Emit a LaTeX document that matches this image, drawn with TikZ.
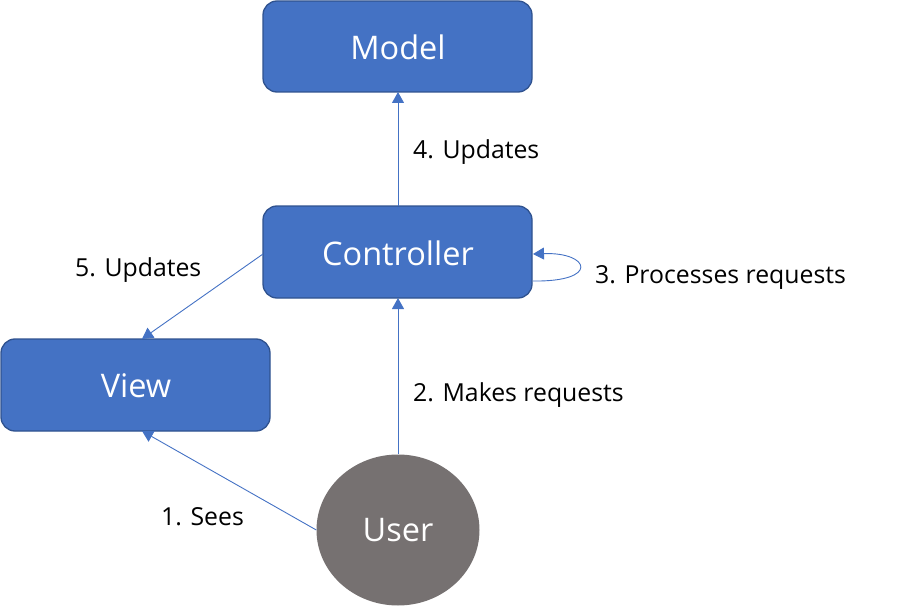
\documentclass[tikz,border=0pt]{standalone}
\usepackage{fontspec}
\setmainfont{Open Sans}
\usetikzlibrary{arrows.meta,shapes.geometric}
\definecolor{boxblue}{HTML}{4472C4}
\definecolor{boxedge}{HTML}{2F528F}
\definecolor{usergray}{HTML}{767171}
\begin{document}
\begin{tikzpicture}[x=1pt,y=-1pt,
  block/.style={draw=boxedge,line width=1.3pt,fill=boxblue,rounded corners=14pt},
  boxtext/.style={text=white,font=\fontsize{32.5}{38}\selectfont},
  link/.style={draw=boxblue,line width=0.9pt,-{Triangle[length=11pt,width=12pt]}},
  lbl/.style={font=\fontsize{24.8}{29}\selectfont,text=black,inner sep=0pt}]
\useasboundingbox (0,0) rectangle (900,607);
% boxes drawn from their corners
\draw[block] (263,1) rectangle (532,92);
\node[boxtext] (model) at (398,47) {Model};
\coordinate (modelS) at (398,92);
\draw[block] (263,206) rectangle (532,298);
\node[boxtext] (ctrl) at (398,253) {Controller};
\coordinate (ctrlN) at (398,206);
\coordinate (ctrlS) at (398,298);
\coordinate (ctrlW) at (263,254);
\coordinate (ctrlE1) at (533,281);
\coordinate (ctrlE2) at (533,254);
\draw[block] (1,339) rectangle (270,431);
\node[boxtext] (view) at (136,386) {View};
\coordinate (viewN) at (142,339);
\coordinate (viewS) at (142,431);
% user
\node[ellipse,fill=usergray,minimum width=163pt,minimum height=151pt,inner sep=0pt,
  boxtext] (user) at (398,530) {User};
% connectors
\draw[link] (ctrlN) -- (modelS);
\draw[link] (user.north) -- (ctrlS);
\draw[link] (ctrlW) -- (viewN);
\draw[link] (user.west) -- (viewS);
\draw[link] (ctrlE1) .. controls (600,282) and (590,252) .. (ctrlE2);
% labels
\node[lbl,anchor=west] (l4) at (413,152) {4. Updates};
\node[lbl,anchor=west] (l5) at (75,270) {5. Updates};
\node[lbl,anchor=west] (l3) at (595,277) {3. Processes requests};
\node[lbl,anchor=west] (l2) at (413,395) {2. Makes requests};
\node[lbl,anchor=west] (l1) at (161,517) {1. Sees};
\end{tikzpicture}
\end{document}
